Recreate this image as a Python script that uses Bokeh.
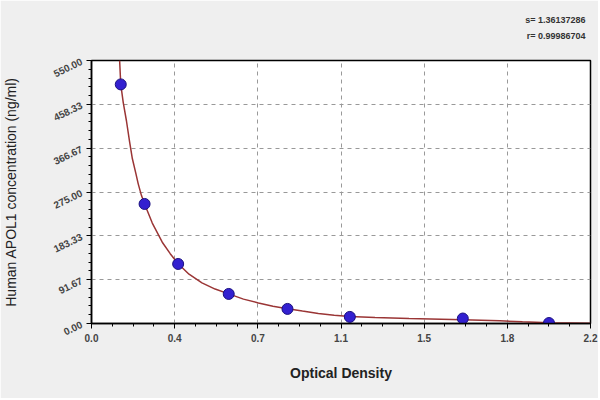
from bokeh.plotting import figure
from bokeh.models import FixedTicker, Range1d, Title
from bokeh.embed import file_html
from bokeh.resources import INLINE

# standard points (OD, concentration ng/ml)
std_od = [0.129, 0.234, 0.382, 0.605, 0.864, 1.139, 1.637, 2.017]
std_conc = [500.0, 250.0, 124.5, 61.8, 30.5, 13.8, 10.4, 1.0]

# fitted curve
curve_od = [0.124, 0.129, 0.14, 0.154, 0.168, 0.18, 0.195, 0.206, 0.22, 0.234,
            0.268, 0.312, 0.347, 0.382, 0.43, 0.487, 0.545, 0.605, 0.67,
            0.736, 0.8, 0.864, 0.93, 1.0, 1.07, 1.139, 1.25, 1.4, 1.637,
            1.8, 1.9, 2.017, 2.2]
curve_conc = [550, 500, 462, 424, 380, 345, 315, 292, 268, 250,
              210, 170, 146, 125, 103, 85, 72, 62, 51,
              43, 36, 31, 26, 21, 17.5, 14.5, 12.5, 10.5, 8,
              5.5, 3.5, 1.5, 0.5]

x_ticks = [0.0, 0.3667, 0.7333, 1.1, 1.4667, 1.8333, 2.2]
x_tick_labels = ["0.0", "0.4", "0.7", "1.1", "1.5", "1.8", "2.2"]
y_ticks = [0.0, 91.67, 183.33, 275.0, 366.67, 458.33, 550.0]
y_tick_labels = ["0.00", "91.67", "183.33", "275.00", "366.67", "458.33", "550.00"]

stat_lines = ["s= 1.36137286", "r= 0.99986704"]

p = figure(width=598, height=398, output_backend="svg", toolbar_location=None,
           x_range=Range1d(0, 2.2), y_range=Range1d(0, 550),
           min_border_left=89, min_border_right=8, min_border_top=60,
           min_border_bottom=75)
p.border_fill_color = "#efefef"
p.background_fill_color = "white"
p.outline_line_color = "black"
p.outline_line_width = 1.5

# ticks
x_minor = []
for i in range(len(x_ticks) - 1):
    step = (x_ticks[i + 1] - x_ticks[i]) / 4
    x_minor += [x_ticks[i] + step * k for k in range(1, 4)]
y_minor = []
for i in range(len(y_ticks) - 1):
    step = (y_ticks[i + 1] - y_ticks[i]) / 5
    y_minor += [y_ticks[i] + step * k for k in range(1, 5)]

p.xaxis.ticker = FixedTicker(ticks=x_ticks, minor_ticks=x_minor)
p.yaxis.ticker = FixedTicker(ticks=y_ticks, minor_ticks=y_minor)
p.xaxis.major_label_overrides = dict(zip(x_ticks, x_tick_labels))
p.yaxis.major_label_overrides = dict(zip(y_ticks, y_tick_labels))

for ax in (p.xaxis, p.yaxis):
    ax.axis_line_color = "black"
    ax.axis_line_width = 1.5
    ax.major_tick_line_color = "black"
    ax.minor_tick_line_color = "black"
    ax.major_tick_out = 5
    ax.major_tick_in = 0
    ax.minor_tick_out = 3
    ax.minor_tick_in = 0
    ax.major_label_text_font = "Liberation Sans"
    ax.major_label_text_font_size = "10px"
    ax.major_label_text_font_style = "bold"
    ax.major_label_text_color = "#444444"
    ax.axis_label_text_font = "Liberation Sans"
    ax.axis_label_text_color = "#222222"

p.yaxis.major_label_orientation = 0.45
p.xaxis.axis_label = "Optical Density"
p.xaxis.axis_label_text_font_size = "14px"
p.xaxis.axis_label_text_font_style = "bold"
p.xaxis.axis_label_standoff = 20
p.yaxis.axis_label = "Human APOL1 concentration (ng/ml)"
p.yaxis.axis_label_text_font_size = "14px"
p.yaxis.axis_label_text_font_style = "normal"
p.yaxis.axis_label_standoff = 28

p.grid.grid_line_color = "#999999"
p.grid.grid_line_dash = "4 4"
p.grid.grid_line_width = 1

p.line(curve_od, curve_conc, line_color="#9a3535", line_width=1.5)
p.scatter(std_od, std_conc, size=11, fill_color="#3320d0",
          line_color="#1a1080", line_width=1)

# spacer between frame and the statistics text
p.add_layout(Title(text=" ", text_font_size="9px", standoff=6), "above")
for t in reversed(stat_lines):
    p.add_layout(Title(text=t, align="right", text_font="Liberation Sans",
                       text_font_size="9px", text_font_style="bold",
                       text_color="#333333", offset=5, standoff=4), "above")

open("out.html", "w").write(file_html(p, INLINE))
